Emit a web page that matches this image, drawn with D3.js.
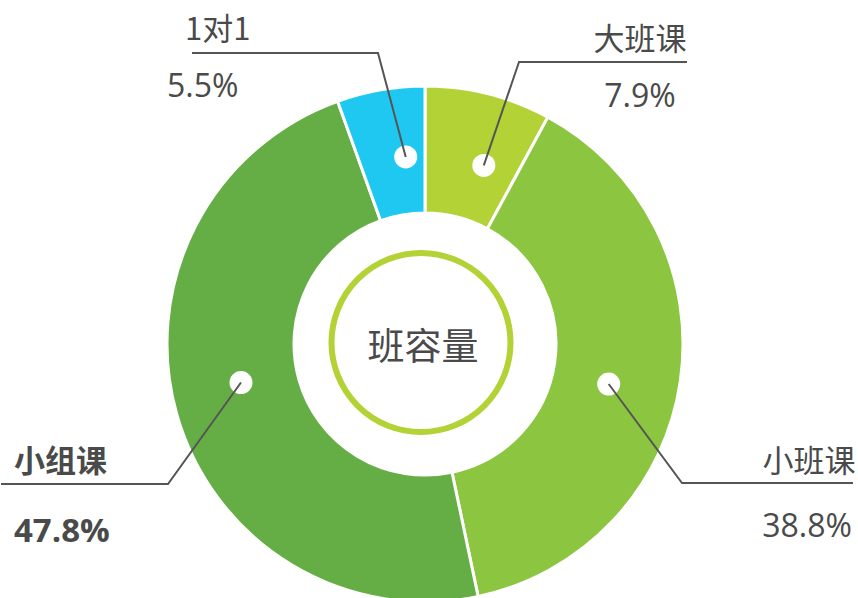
<!DOCTYPE html>
<html>
<head>
<meta charset="utf-8">
<script src="https://cdn.jsdelivr.net/npm/d3@7"></script>
<style>
  html, body { margin: 0; padding: 0; background: #fff; }
  svg { display: block; }
  text { fill: #4a4a4a; }
</style>
</head>
<body>
<svg id="chart" width="858" height="598"></svg>
<script>
// Chart data
const categories = ["大班课", "小班课", "小组课", "1对1"];
const shares = [7.9, 38.8, 47.8, 5.5];
const centerTitle = "班容量";

const colors = ["#b3d235", "#8cc540", "#65ae45", "#1fc8f0"];

// Label placement (annotation layout only): elbow point, end of the
// horizontal rule, and where the name / value text sits.
const labelLayout = [
  { elbow: [519, 62],  end: 687, name: [640, 50],  value: [640, 107], anchor: "middle", bold: false },
  { elbow: [682, 483], end: 853, name: [809, 472], value: [807, 537], anchor: "middle", bold: false },
  { elbow: [168, 484], end: 1,   name: [14, 472],  value: [14, 542],  anchor: "start",  bold: true },
  { elbow: [378, 53],  end: 192, name: [185, 40],  value: [167, 97],  anchor: "start",  bold: false },
];

const W = 858, H = 598;
const cx = 425, cy = 344;
const outerR = 258, innerR = 131;
const dotR = 188, dotShift = 0.07;

const svg = d3.select("#chart");
const g = svg.append("g").attr("transform", `translate(${cx},${cy})`);

const pie = d3.pie().value(d => d).sort(null);
const arcs = pie(shares);
const arc = d3.arc().innerRadius(innerR).outerRadius(outerR);

g.selectAll("path.slice").data(arcs).enter().append("path")
  .attr("class", "slice")
  .attr("d", arc)
  .attr("fill", (d, i) => colors[i])
  .attr("stroke", "#fff").attr("stroke-width", 3);

// centre ring + title
g.append("circle")
  .attr("cx", -4).attr("cy", -1.5).attr("r", 89.5)
  .attr("fill", "none").attr("stroke", "#b3d235").attr("stroke-width", 6);
g.append("text")
  .attr("x", -2).attr("y", 16)
  .attr("text-anchor", "middle")
  .attr("font-family", "'Noto Sans CJK SC', sans-serif")
  .attr("font-size", 37)
  .text(centerTitle);

// dots on the slices
const dotPos = arcs.map(d => {
  const a = (d.startAngle + d.endAngle) / 2 + dotShift;
  return [cx + dotR * Math.sin(a), cy - dotR * Math.cos(a)];
});
svg.selectAll("circle.dot").data(dotPos).enter().append("circle")
  .attr("class", "dot")
  .attr("cx", d => d[0]).attr("cy", d => d[1]).attr("r", 11.5)
  .attr("fill", "#fff");

// leader lines
const line = d3.line();
svg.selectAll("path.leader").data(labelLayout).enter().append("path")
  .attr("class", "leader")
  .attr("d", (d, i) => line([dotPos[i], d.elbow, [d.end, d.elbow[1]]]))
  .attr("fill", "none").attr("stroke", "#555").attr("stroke-width", 2);

// name + value text
labelLayout.forEach((d, i) => {
  svg.append("text")
    .attr("x", d.name[0]).attr("y", d.name[1])
    .attr("text-anchor", d.anchor)
    .attr("font-family", "'Noto Sans CJK SC', sans-serif")
    .attr("font-weight", d.bold ? 700 : 400)
    .attr("font-size", 31)
    .text(categories[i]);
  svg.append("text")
    .attr("x", d.value[0]).attr("y", d.value[1])
    .attr("text-anchor", d.anchor)
    .attr("font-family", "'Open Sans', sans-serif")
    .attr("font-weight", d.bold ? 700 : 400)
    .attr("font-size", d.bold ? 33 : 32)
    .text(shares[i].toFixed(1) + "%");
});
</script>
</body>
</html>
